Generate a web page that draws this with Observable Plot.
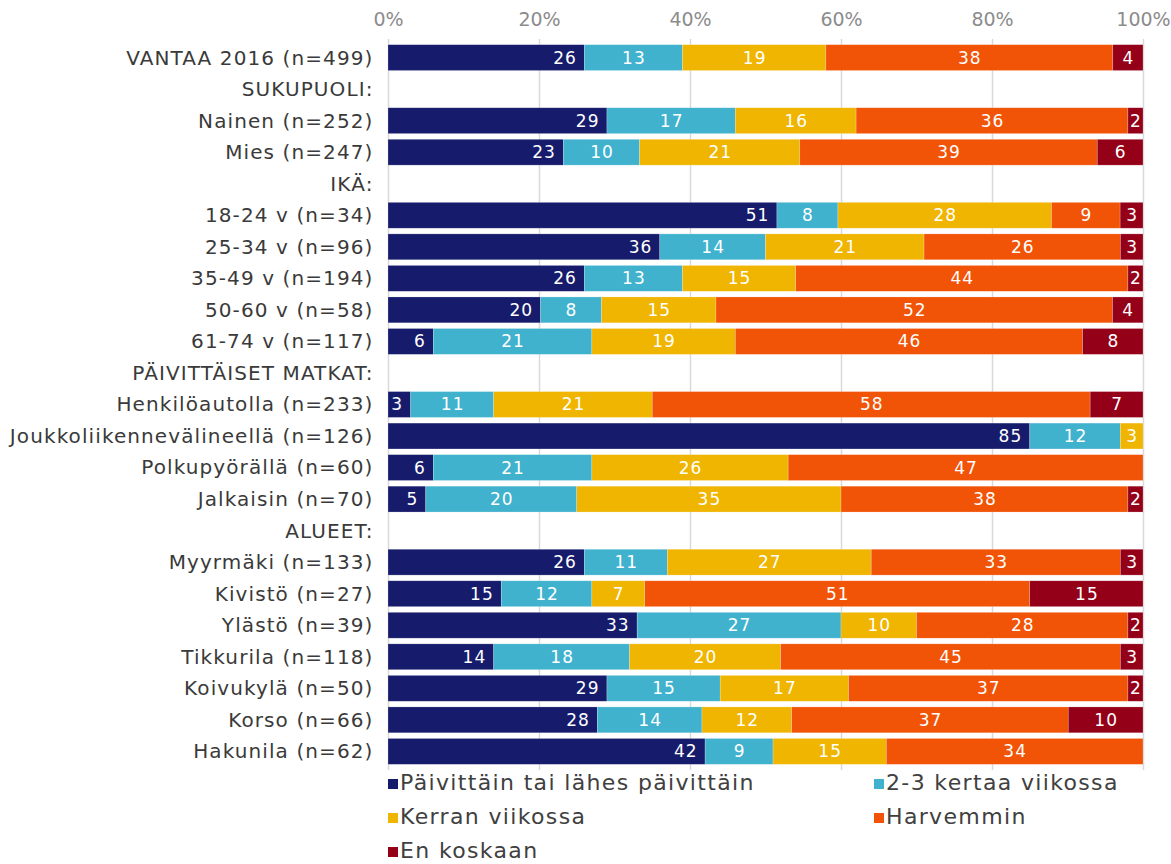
<!DOCTYPE html>
<html>
<head>
<meta charset="utf-8">
<script src="https://cdn.jsdelivr.net/npm/d3@7"></script>
<script src="https://cdn.jsdelivr.net/npm/@observablehq/plot@0.6"></script>
<style>
  html, body { margin: 0; padding: 0; background: #fff; }
  body { width: 1171px; font-family: "DejaVu Sans", Verdana, sans-serif; }
  #legend { position: relative; height: 100px; margin-top: -4px; }
  .item { position: absolute; font-size: 22px; color: #404040; line-height: 34px; white-space: nowrap; letter-spacing: 1.35px; }
  .sw { display: inline-block; width: 10px; height: 10px; margin-right: 2px; vertical-align: 1px; }
</style>
</head>
<body>
<div id="chart"></div>
<div id="legend"></div>
<script>
const rows = ["VANTAA 2016 (n=499)", "SUKUPUOLI:", "Nainen (n=252)", "Mies (n=247)", "IKÄ:",
  "18-24 v (n=34)", "25-34 v (n=96)", "35-49 v (n=194)", "50-60 v (n=58)", "61-74 v (n=117)",
  "PÄIVITTÄISET MATKAT:", "Henkilöautolla (n=233)", "Joukkoliikennevälineellä (n=126)",
  "Polkupyörällä (n=60)", "Jalkaisin (n=70)", "ALUEET:", "Myyrmäki (n=133)", "Kivistö (n=27)",
  "Ylästö (n=39)", "Tikkurila (n=118)", "Koivukylä (n=50)", "Korso (n=66)", "Hakunila (n=62)"];

const seriesNames = ["Päivittäin tai lähes päivittäin", "2-3 kertaa viikossa", "Kerran viikossa", "Harvemmin", "En koskaan"];
const seriesColors = ["#161c6b", "#40b2ce", "#efb500", "#f15307", "#950019"];

const paivittain = [26,null,29,23,null,51,36,26,20,6,null,3,85,6,5,null,26,15,33,14,29,28,42];
const kertaa23   = [13,null,17,10,null,8,14,13,8,21,null,11,12,21,20,null,11,12,27,18,15,14,9];
const kerran     = [19,null,16,21,null,28,21,15,15,19,null,21,3,26,35,null,27,7,10,20,17,12,15];
const harvemmin  = [38,null,36,39,null,9,26,44,52,46,null,58,0,47,38,null,33,51,28,45,37,37,34];
const enKoskaan  = [4,null,2,6,null,3,3,2,4,8,null,7,0,0,2,null,3,15,2,3,2,10,0];

const xTicks = [0, 0.2, 0.4, 0.6, 0.8, 1];

const seriesValues = [paivittain, kertaa23, kerran, harvemmin, enKoskaan];
const data = [];
rows.forEach((r, i) => {
  seriesValues.forEach((vals, s) => {
    if (vals[i] != null) data.push({row: r, series: seriesNames[s], value: vals[i]});
  });
});

const stackOpts = {x: "value", y: "row", z: "series", order: seriesNames, offset: "normalize"};

const chart = Plot.plot({
  width: 1171,
  height: 770,
  marginLeft: 388,
  marginRight: 28,
  marginTop: 39,
  marginBottom: 0,
  style: {fontFamily: "DejaVu Sans, Verdana, sans-serif", background: "#fff", overflow: "visible"},
  x: {domain: [0, 1], axis: null},
  y: {domain: rows, padding: 0.18, round: false, axis: null},
  color: {domain: seriesNames, range: seriesColors},
  marks: [
    Plot.ruleX(xTicks, {stroke: "#d9d9d9", strokeWidth: 1.5}),
    Plot.axisX(xTicks, {anchor: "top", tickSize: 0, tickPadding: 14, tickFormat: d => Math.round(d * 100) + "%", fontSize: 19, fill: "#8c8c8c", color: "#8c8c8c", label: null, className: "xax"}),
    Plot.axisY(rows, {anchor: "left", tickSize: 0, tickPadding: 15, fontSize: 20, fill: "#3a3a3a", color: "#3a3a3a", label: null, className: "yax"}),
    Plot.barX(data, Plot.stackX({...stackOpts, fill: "series", stroke: "#ffffff", strokeOpacity: 0.35, strokeWidth: 0.6})),
    Plot.textX(data, Plot.stackX2({...stackOpts,
      text: d => d.series === seriesNames[0] && d.value > 0 ? String(d.value) : "",
      textAnchor: "end", dx: -8, fill: "white", fontSize: 17, fontWeight: "normal", className: "lbl"})),
    Plot.textX(data, Plot.stackX({...stackOpts,
      text: d => d.series !== seriesNames[0] && d.value > 0 ? String(d.value) : "",
      fill: "white", fontSize: 17, className: "lbl"}))
  ]
});
chart.querySelectorAll(".lbl text").forEach(t => t.style.letterSpacing = "1px");
chart.querySelectorAll(".yax text").forEach(t => t.style.letterSpacing = "1.1px");
document.getElementById("chart").appendChild(chart);

const legend = document.getElementById("legend");
const positions = [[388, 0], [874, 0], [388, 34], [874, 34], [388, 68]];
seriesNames.forEach((name, i) => {
  const el = document.createElement("div");
  el.className = "item";
  el.style.left = positions[i][0] + "px";
  el.style.top = positions[i][1] + "px";
  el.innerHTML = `<span class="sw" style="background:${seriesColors[i]}"></span>${name}`;
  legend.appendChild(el);
});
</script>
</body>
</html>
